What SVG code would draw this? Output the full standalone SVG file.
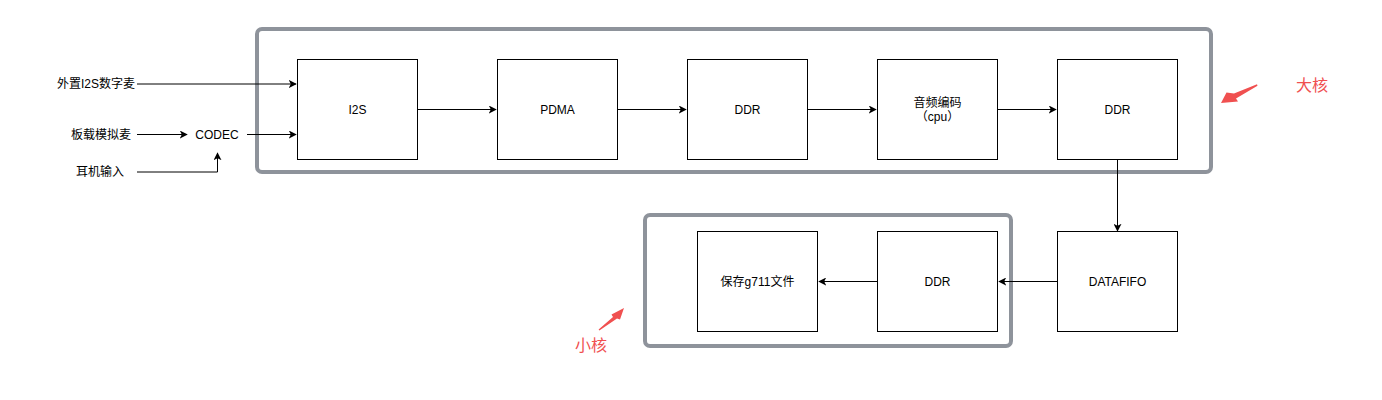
<svg xmlns="http://www.w3.org/2000/svg" width="1382" height="400" viewBox="0 0 1382 400">
<style>
.box{fill:#fff;stroke:#000;stroke-width:1}
.grp{fill:none;stroke:#8e939b;stroke-width:4}
.t{font-family:"Liberation Sans","Noto Sans CJK SC",sans-serif;font-size:12px;fill:#000;text-anchor:middle;dominant-baseline:central}
.c{fill:none;stroke:#000;stroke-width:1}
.red{font-family:"Noto Sans CJK SC",sans-serif;font-size:16px;fill:#f05050;text-anchor:middle;dominant-baseline:central}
</style>
<defs>
<marker id="a" viewBox="0 0 10 10" refX="9" refY="5" markerWidth="8" markerHeight="8" markerUnits="userSpaceOnUse" orient="auto">
<path d="M0,0 L10,5 L0,10 L2.5,5 Z" fill="#000"/>
</marker>
</defs>
<rect fill="#fff" x="0" y="0" width="1382" height="400"/>
<g id="bigcore"><rect class="grp" x="257" y="29" width="954" height="143" rx="5"/></g>
<g id="littlecore"><rect class="grp" x="645" y="215" width="366" height="131" rx="5"/></g>
<g id="connectors">
<path class="c" d="M137,84 H296" marker-end="url(#a)"/>
<path class="c" d="M137,134.5 H187" marker-end="url(#a)"/>
<path class="c" d="M247,134.5 H296" marker-end="url(#a)"/>
<path class="c" d="M137,172 H217.5 V153" marker-end="url(#a)"/>
<path class="c" d="M417.5,109.5 H496" marker-end="url(#a)"/>
<path class="c" d="M617.5,109.5 H686" marker-end="url(#a)"/>
<path class="c" d="M807.5,109.5 H876" marker-end="url(#a)"/>
<path class="c" d="M997.5,109.5 H1056" marker-end="url(#a)"/>
<path class="c" d="M1117.5,159.5 V231" marker-end="url(#a)"/>
<path class="c" d="M1057.5,281.5 H999" marker-end="url(#a)"/>
<path class="c" d="M877.5,281.5 H819" marker-end="url(#a)"/>
</g>
<g id="in1"><text class="t" x="96" y="84">外置I2S数字麦</text></g>
<g id="in2"><text class="t" x="101" y="134.5">板载模拟麦</text></g>
<g id="in3"><text class="t" x="100" y="172">耳机输入</text></g>
<g id="codec"><text class="t" x="217" y="134.5">CODEC</text></g>
<g id="i2s"><rect class="box" x="297.5" y="59.5" width="120" height="100"/><text class="t" x="357.5" y="109.5">I2S</text></g>
<g id="pdma"><rect class="box" x="497.5" y="59.5" width="120" height="100"/><text class="t" x="557.5" y="109.5">PDMA</text></g>
<g id="ddr1"><rect class="box" x="687.5" y="59.5" width="120" height="100"/><text class="t" x="747.5" y="109.5">DDR</text></g>
<g id="enc"><rect class="box" x="877.5" y="59.5" width="120" height="100"/><text class="t" x="937.5" y="102.5">音频编码</text><text class="t" x="937.5" y="116.5">（cpu）</text></g>
<g id="ddr2"><rect class="box" x="1057.5" y="59.5" width="120" height="100"/><text class="t" x="1117.5" y="109.5">DDR</text></g>
<g id="datafifo"><rect class="box" x="1057.5" y="231.5" width="120" height="100"/><text class="t" x="1117.5" y="281.5">DATAFIFO</text></g>
<g id="ddr3"><rect class="box" x="877.5" y="231.5" width="120" height="100"/><text class="t" x="937.5" y="281.5">DDR</text></g>
<g id="save"><rect class="box" x="697.5" y="231.5" width="120" height="100"/><text class="t" x="757.5" y="281.5">保存g711文件</text></g>
<g id="label-big">
<path d="M1257,84.3 L1234,93.5 L1226.5,92.5 L1221,103 L1238,101.5 L1236,98.5 L1257.5,85.7 Z" fill="#f05050"/>
<text class="red" x="1312" y="84">大核</text>
</g>
<g id="label-small">
<path d="M598.6,329.6 L613,317 L611.5,314.5 L624,308 L620,319.5 L617,318.5 L599.4,330.4 Z" fill="#f05050"/>
<text class="red" x="591" y="344">小核</text>
</g>
</svg>
